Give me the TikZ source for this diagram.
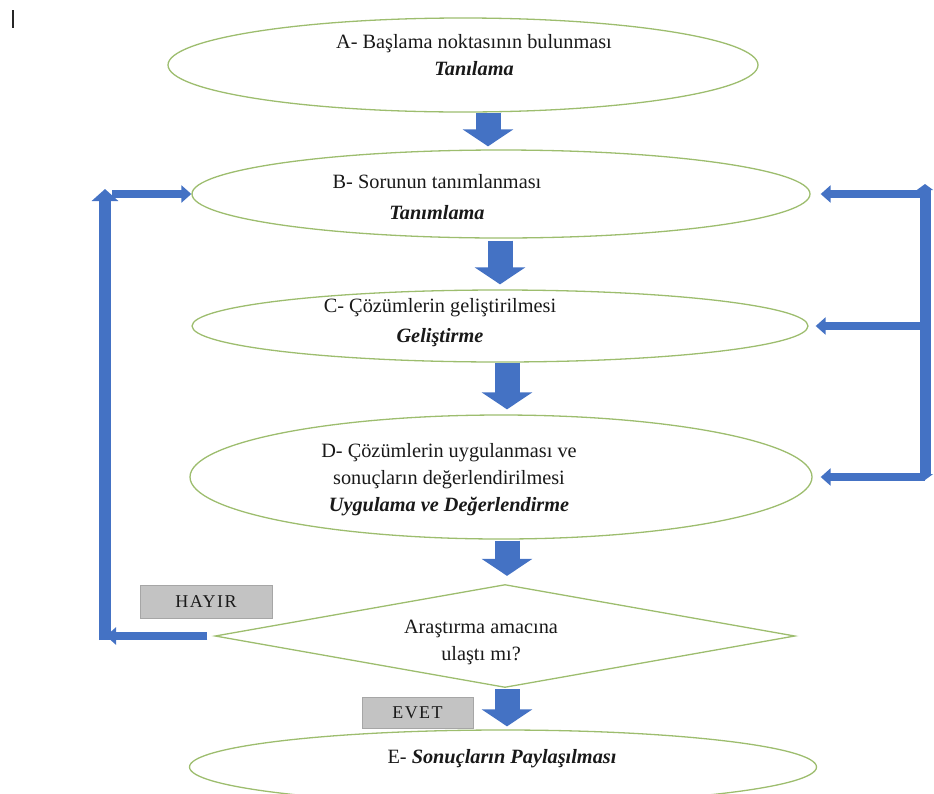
\documentclass[tikz,border=0pt]{standalone}
\usepackage{fontspec}
\setmainfont{Liberation Serif}
\usetikzlibrary{shapes.geometric,arrows.meta}
\definecolor{ellgreen}{HTML}{9DBD6E}
\definecolor{arrblue}{HTML}{4472C4}
\definecolor{boxgray}{HTML}{C3C3C3}
\definecolor{boxedge}{HTML}{A6A6A6}
\begin{document}
\begin{tikzpicture}[x=1pt,y=-1pt,
  ell/.style={ellipse,draw=ellgreen,line width=1.3pt,inner sep=0pt},
  txt/.style={align=center,font=\fontsize{20.3}{27}\selectfont,text=black!90,inner sep=0pt},
  downarr/.style={draw=arrblue,line width=25pt,-{Triangle[width=50pt,length=17pt]}},
  thinarr/.style={draw=arrblue,line width=7.5pt,-{Triangle[width=17pt,length=10pt]}},
  vertarr/.style={draw=arrblue,line width=12pt,-{Triangle[width=26pt,length=12pt]}},
  lbl/.style={draw=boxedge,fill=boxgray,line width=0.8pt,inner sep=0pt,text=black!90,
    font=\fontsize{18}{20}\selectfont\addfontfeature{LetterSpace=8}}
]
\useasboundingbox (0,0) rectangle (934,793);
\clip (0,0) rectangle (934,793);

% cursor mark
\coordinate (cur1) at (13,10);
\coordinate (cur2) at (13,28);
\draw[line width=2pt,black!85] (cur1) -- (cur2);

% shapes
\node[ell,minimum width=590pt,minimum height=94pt] (A) at (463,65) {};
\node[ell,minimum width=618pt,minimum height=88pt] (B) at (501,194) {};
\node[ell,minimum width=616pt,minimum height=72pt] (C) at (500,326) {};
\node[ell,minimum width=622pt,minimum height=124pt] (D) at (501,477) {};
\node[diamond,draw=ellgreen,line width=1.3pt,inner sep=0pt,minimum width=580pt,minimum height=103pt] (Q) at (505,636) {};
\node[ell,minimum width=627pt,minimum height=74pt] (E) at (503,767) {};

% texts
\node[txt] (tA) at (474,55) {A- Başlama noktasının bulunması\\ \textbf{\textit{Tanılama}}};
\node[txt] (tB) at (437,197) {B- Sorunun tanımlanması\\[4pt] \textbf{\textit{Tanımlama}}};
\node[txt] (tC) at (440,323) {C- Çözümlerin geliştirilmesi\\[3pt] \textbf{\textit{Geliştirme}}};
\node[txt] (tD) at (449,480) {D- Çözümlerin uygulanması ve\\ sonuçların değerlendirilmesi\\ \textbf{\textit{Uygulama ve Değerlendirme}}};
\node[txt] (tQ) at (481,642) {Araştırma amacına\\ ulaştı mı?};
\node[txt] (tE) at (502,759) {E- \textbf{\textit{Sonuçların Paylaşılması}}};

% labels
\node[lbl,minimum width=132pt,minimum height=33pt] (hayir) at (206,601.5) {HAYIR};
\node[lbl,minimum width=111pt,minimum height=31pt] (evet) at (417.5,712.5) {EVET};

% down arrows
\coordinate (xab) at (488,0);
\coordinate (xbc) at (500,0);
\coordinate (xcd) at (507,0);
\draw[downarr,shorten >=3pt] (A.south -| xab) -- (B.north -| xab);
\draw[downarr,shorten <=2pt,shorten >=5pt] (B.south -| xbc) -- (C.north -| xbc);
\draw[downarr,shorten >=5pt] (C.south -| xcd) -- (D.north -| xcd);
\draw[downarr,shorten <=1pt,shorten >=8pt] (D.south -| xcd) -- (Q.north -| xcd);
\draw[downarr,shorten <=1pt,shorten >=3pt] (Q.south -| xcd) -- (E.north -| xcd);

% left loop
\coordinate (Lbot) at (105,640);
\coordinate (Ltop) at (105,189);
\coordinate (Ltip) at (106,0);
\coordinate (Lx) at (112,0);
\draw[vertarr] (Lbot) -- (Ltop);
\draw[thinarr,shorten <=7pt] (Q.west) -- (Ltip |- Q.west);
\draw[thinarr] (Lx |- B.west) -- (B.west);

% right loop
\coordinate (Rtop) at (925,184);
\coordinate (Rbot) at (925,480);
\draw[draw=arrblue,line width=11pt,{Triangle[width=16pt,length=6pt]}-{Triangle[width=16pt,length=6pt]}] (Rtop) -- (Rbot);
\draw[thinarr,shorten >=10pt] (Rtop |- B.east) -- (B.east);
\draw[thinarr,shorten >=7pt] (Rtop |- C.east) -- (C.east);
\draw[thinarr,shorten >=8pt] (Rtop |- D.east) -- (D.east);
\end{tikzpicture}
\end{document}
